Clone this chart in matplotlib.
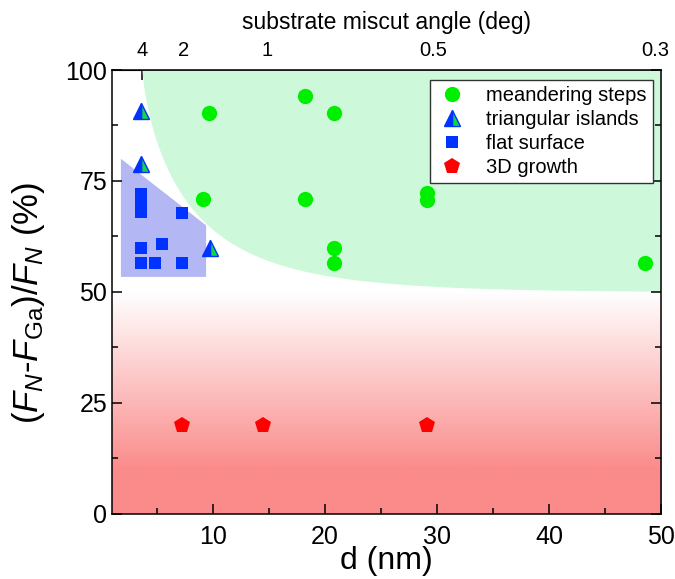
import numpy as np
import matplotlib
matplotlib.use("Agg")
import matplotlib.pyplot as plt

plt.rcParams['font.family'] = ['Liberation Sans', 'DejaVu Sans']
plt.rcParams['mathtext.fontset'] = 'custom'
plt.rcParams['mathtext.rm'] = 'Liberation Sans'
plt.rcParams['mathtext.it'] = 'Liberation Sans:italic'

# growth regimes: step spacing d (nm) vs. N excess (%)
meander_d = [9.7, 18.2, 20.8, 9.1, 18.2, 29.1, 29.1, 20.8, 20.8, 48.6]
meander_y = [90.4, 94.1, 90.4, 70.9, 70.9, 72.3, 70.8, 59.8, 56.5, 56.5]

triangle_d = [3.62, 3.62, 9.72]
triangle_y = [90.8, 78.8, 60.0]

flat_d = [3.62, 3.62, 3.62, 7.25, 3.62, 5.46, 3.55, 4.8, 7.25]
flat_y = [72.0, 70.0, 68.0, 67.9, 59.8, 60.9, 56.5, 56.5, 56.5]

growth3d_d = [7.25, 14.5, 29.1]
growth3d_y = [20.0, 20.0, 20.0]

# top axis: miscut angle for a c/2 step height of GaN
step_h = 0.259  # nm
angle_major = [4, 2, 1, 0.5, 0.3]
angle_minor = [3, 1.5, 0.75, 0.4]

# shaded regions
flat_region_d = [1.8, 9.4, 9.4, 1.8]
flat_region_y = [80.0, 65.0, 53.4, 53.4]
meander_x0, meander_L, meander_k = 3.68, 4.6, 0.75


def d2ang(d):
    d = np.asarray(d, dtype=float)
    return np.degrees(np.arctan(step_h / np.clip(d, 1e-3, None)))


def ang2d(a):
    a = np.asarray(a, dtype=float)
    return step_h / np.tan(np.radians(np.clip(a, 1e-4, None)))


fig = plt.figure(figsize=(6.75, 5.79), dpi=100)
ax = fig.add_axes([0.1659, 0.1123, 0.8134, 0.7668])
ax.set_xlim(1, 50)
ax.set_ylim(0, 100)

# red gradient below 50 %
t = np.clip((50 - np.linspace(50, 0, 300)) / 40.0, 0, 1)[:, None, None]
white = np.array([1.0, 1.0, 1.0])
salmon = np.array([251, 139, 139]) / 255.0
grad = white * (1 - t) + salmon * t
ax.imshow(grad, extent=[1, 50, 0, 50], aspect='auto', origin='upper', zorder=0)

# green meandering region
dd = np.linspace(meander_x0, 50, 400)
edge = 50 + 50 * np.exp(-((dd - meander_x0) / meander_L) ** meander_k)
ax.fill_between(dd, edge, 100, color='#cdf9da', lw=0, zorder=1)

# blue flat-surface region
ax.fill(flat_region_d, flat_region_y, color='#b3b8f5', lw=0, zorder=1)

ms = dict(linestyle='none', zorder=3)
ax.plot(meander_d, meander_y, 'o', color='#00ee00', markersize=11,
        markeredgewidth=0, label='meandering steps', **ms)
ax.plot(triangle_d, triangle_y, '^', markersize=12, fillstyle='right',
        markerfacecolor='#10d840', markerfacecoloralt='#0033ff',
        markeredgecolor='#0033ff', markeredgewidth=1,
        label='triangular islands', **ms)
ax.plot(flat_d, flat_y, 's', color='#0033ff', markersize=9,
        markeredgewidth=0, label='flat surface', **ms)
ax.plot(growth3d_d, growth3d_y, 'p', color='#ff0000', markersize=12,
        markeredgewidth=0, label='3D growth', **ms)

ax.set_xticks([10, 20, 30, 40, 50])
ax.set_xticks([5, 15, 25, 35, 45], minor=True)
ax.set_yticks([0, 25, 50, 75, 100])
ax.set_yticks([12.5, 37.5, 62.5, 87.5], minor=True)
ax.tick_params(which='both', direction='in', top=False, right=True,
               labelsize=18, width=1.1)
ax.tick_params(which='major', length=7)
ax.tick_params(which='minor', length=4)
ax.tick_params(axis='x', pad=8)
for s in ax.spines.values():
    s.set_linewidth(1.1)
    s.set_zorder(5)

ax.set_xlabel('d (nm)', fontsize=23, labelpad=-2)
ax.set_ylabel(r'$(F_N$-$F_{\mathrm{Ga}})/F_N$ (%)', fontsize=25)
ax.yaxis.set_label_coords(-0.118, 0.475)

top = ax.secondary_xaxis('top', functions=(d2ang, ang2d))
top.set_xticks(angle_major)
top.set_xticks(angle_minor, minor=True)
top.set_xticklabels(['4', '2', '1', '0.5', '0.3'])
top.tick_params(which='both', direction='in', labelsize=14.5, width=1.1, pad=7)
top.tick_params(which='major', length=7)
top.tick_params(which='minor', length=4)
top.set_xlabel('substrate miscut angle (deg)', fontsize=16.5, labelpad=9)

leg = ax.legend(loc='upper right', bbox_to_anchor=(0.985, 0.978),
                borderaxespad=0, fontsize=14.5, frameon=True, fancybox=False,
                framealpha=1, edgecolor='#333333', handletextpad=0.9,
                borderpad=0.3, labelspacing=0.25, handlelength=1.6)
leg.get_frame().set_linewidth(1.0)
leg.set_zorder(6)

fig.savefig('out.png', dpi=100)
